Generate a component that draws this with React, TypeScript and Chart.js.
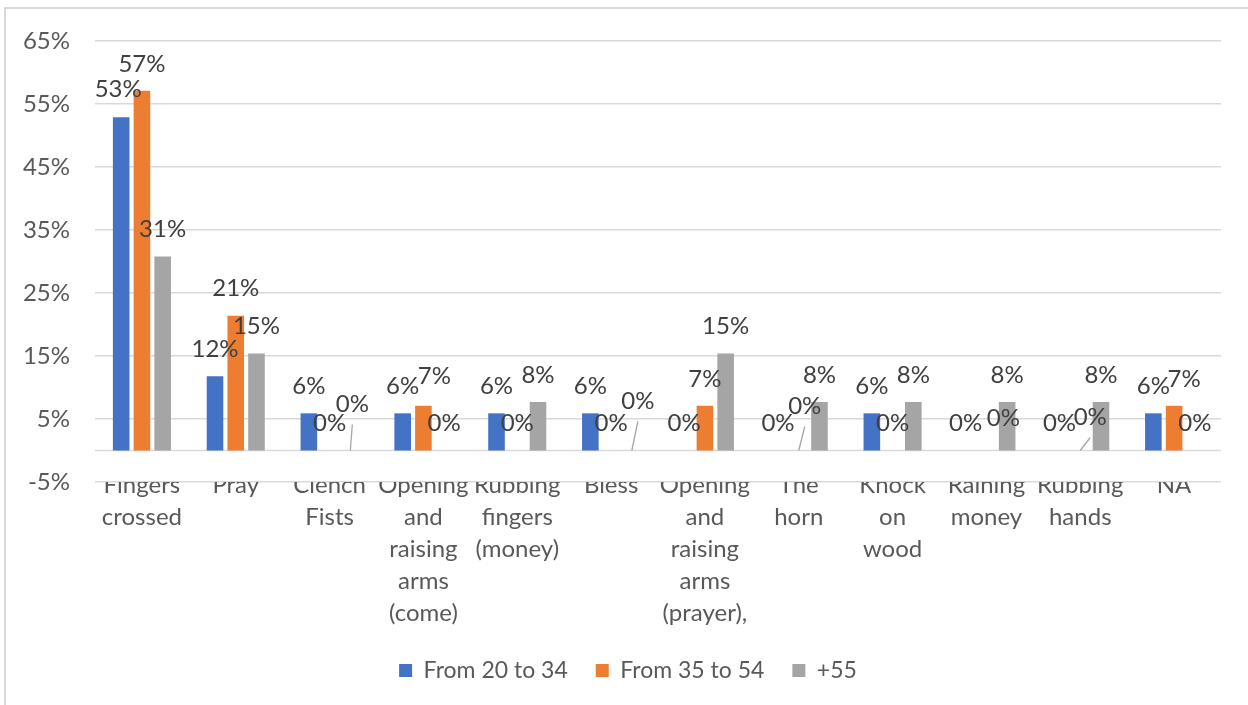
import React, { useEffect, useRef } from "react";
import { Chart, registerables } from "chart.js";

Chart.register(...registerables);

const categories: string[][] = [
  ["Fingers", "crossed"],
  ["Pray"],
  ["Clench", "Fists"],
  ["Opening", "and", "raising", "arms", "(come)"],
  ["Rubbing", "fingers", "(money)"],
  ["Bless"],
  ["Opening", "and", "raising", "arms", "(prayer),"],
  ["The", "horn"],
  ["Knock", "on", "wood"],
  ["Raining", "money"],
  ["Rubbing", "hands"],
  ["NA"],
];

const seriesNames = ["From 20 to 34", "From 35 to 54", "+55"];
const from20to34 = [52.9, 11.8, 5.9, 5.9, 5.9, 5.9, 0, 0, 5.9, 0, 0, 5.9];
const from35to54 = [57.1, 21.4, 0, 7.1, 0, 0, 7.1, 0, 0, 0, 0, 7.1];
const plus55 = [30.8, 15.4, 0, 0, 7.7, 0, 15.4, 7.7, 7.7, 7.7, 7.7, 0];
const yTicks = [-5, 5, 15, 25, 35, 45, 55, 65];

const seriesColors = ["#4472C4", "#ED7D31", "#A5A5A5"];

// Data-label nudges (dx, dy, leader line) for labels moved off their default spot
const labelNudges: Record<string, [number, number, boolean]> = {
  "0:0": [-3, -1, false],
  "1:3": [11, -3, false],
  "2:2": [2, -19, true],
  "2:5": [6, -22, true],
  "1:7": [6, -17, true],
  "1:9": [17, -5, false],
  "1:10": [10, -6, true],
  "1:11": [10, 0, false],
};

const FONT = "Lato";
const FONT_SIZE = 24;
const LABEL_OFFSET = 27;

const zeroLinePlugin = {
  id: "zeroLine",
  beforeDatasetsDraw(chart: any) {
    const { ctx, chartArea } = chart;
    const y = chart.scales.y.getPixelForValue(0);
    ctx.save();
    ctx.strokeStyle = "#d9d9d9";
    ctx.lineWidth = 1.5;
    ctx.beginPath();
    ctx.moveTo(chartArea.left, y);
    ctx.lineTo(chartArea.right, y);
    ctx.stroke();
    ctx.restore();
  },
};

// centre the legend on the whole chart rather than on the padded area
const legendCenterPlugin = {
  id: "legendCenter",
  afterLayout(chart: any) {
    if (chart.legend) {
      chart.legend.left = 8;
      chart.legend.right = chart.width;
    }
  },
};

const dataLabelPlugin = {
  id: "dataLabels",
  afterDatasetsDraw(chart: any) {
    const ctx = chart.ctx;
    const base = chart.scales.y.getPixelForValue(0);
    ctx.save();
    ctx.font = `${FONT_SIZE}px ${FONT}`;
    ctx.textAlign = "center";
    ctx.textBaseline = "middle";
    chart.data.datasets.forEach((ds: any, di: number) => {
      const meta = chart.getDatasetMeta(di);
      meta.data.forEach((el: any, i: number) => {
        const v = ds.data[i] as number;
        const n = labelNudges[`${di}:${i}`] || [0, 0, false];
        const lx = el.x + n[0];
        const ly = el.y - LABEL_OFFSET + n[1];
        if (n[2]) {
          ctx.strokeStyle = "#a6a6a6";
          ctx.lineWidth = 1.3;
          ctx.beginPath();
          ctx.moveTo(el.x, base);
          ctx.lineTo(lx, ly + 20);
          ctx.stroke();
        }
        ctx.fillStyle = "#404040";
        ctx.fillText(Math.round(v) + "%", lx, ly);
      });
    });
    ctx.restore();
  },
};

export default function App() {
  const canvasRef = useRef<HTMLCanvasElement | null>(null);

  useEffect(() => {
    if (!canvasRef.current) return;
    const chart = new Chart(canvasRef.current, {
      type: "bar",
      data: {
        labels: categories,
        datasets: [from20to34, from35to54, plus55].map((d, i) => ({
          label: seriesNames[i],
          data: d,
          backgroundColor: seriesColors[i],
          borderWidth: 0,
          categoryPercentage: 0.663,
          barPercentage: 0.8,
        })),
      },
      options: {
        responsive: false,
        animation: false,
        devicePixelRatio: 1,
        layout: { padding: { left: 0, right: 27, top: 41, bottom: 13 } },
        plugins: {
          legend: {
            position: "bottom",
            labels: {
              boxWidth: 13,
              boxHeight: 13,
              padding: 28,
              color: "#595959",
              font: { family: FONT, size: 23 },
            },
          },
          tooltip: { enabled: false },
          title: { display: false },
        },
        scales: {
          x: {
            grid: { display: false, drawTicks: false },
            border: { display: false },
            afterFit: (axis: any) => {
              axis.height = 149;
            },
            ticks: {
              color: "#595959",
              font: { family: FONT, size: FONT_SIZE, lineHeight: 32 / FONT_SIZE },
              padding: -13,
              maxRotation: 0,
              minRotation: 0,
              autoSkip: false,
            },
          },
          y: {
            min: -5,
            max: 65,
            afterBuildTicks: (axis: any) => {
              axis.ticks = yTicks.map((v) => ({ value: v }));
            },
            afterFit: (axis: any) => {
              axis.width = 95;
            },
            grid: { color: "#d9d9d9", lineWidth: 1.5, drawTicks: false },
            border: { display: false },
            ticks: {
              color: "#595959",
              font: { family: FONT, size: FONT_SIZE },
              padding: 25,
              callback: (v: any) => `${v}%`,
            },
          },
        },
      },
      plugins: [zeroLinePlugin, legendCenterPlugin, dataLabelPlugin],
    });
    return () => chart.destroy();
  }, []);

  return (
    <div style={{ position: "absolute", left: 0, top: 0, width: 1248, height: 705, background: "#fff", overflow: "hidden" }}>
      <div
        style={{
          position: "absolute",
          left: 4,
          top: 7,
          width: 1300,
          height: 800,
          borderLeft: "2px solid #d9d9d9",
          borderTop: "2px solid #d9d9d9",
        }}
      />
      <canvas ref={canvasRef} width={1248} height={705} style={{ position: "absolute", left: 0, top: 0, width: 1248, height: 705 }} />
    </div>
  );
}
